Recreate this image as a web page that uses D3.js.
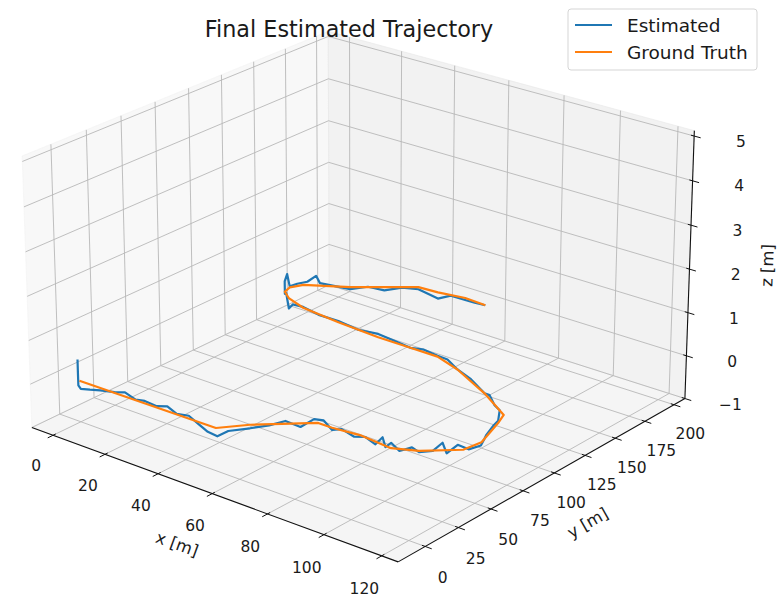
<!DOCTYPE html>
<html>
<head>
<meta charset="utf-8">
<script src="https://cdn.jsdelivr.net/npm/d3@7"></script>
<style>
  body { margin: 0; background: #fff; }
  text { font-family: "DejaVu Sans", sans-serif; fill: #1a1a1a; }
</style>
</head>
<body>
<div class="canvas"></div>
<script>
// Tick labels
const xTicks = [0, 20, 40, 60, 80, 100, 120]
const yTicks = [0, 25, 50, 75, 100, 125, 150, 175, 200]
const zTicks = [-1, 0, 1, 2, 3, 4, 5]

// Ground truth trajectory [m]
const gtX = [1, 52, 58, 72, 77, 86, 98, 105, 114, 115, 111, 109, 96, 80, 70, 60, 48, 32, 17, 9, 5, 4, 6, 18, 34, 41, 50, 58]
const gtY = [-2, -1, 12, 34, 34, 36, 34, 40, 54, 66, 88, 97, 111, 125, 131, 131, 131, 133, 136, 141, 146, 152, 159, 172, 194, 195, 198, 197]
const gtZ = [0, 0, 0, 0, 0, 0, 0, 0, 0, 0, 0, 0, 0, 0, 0, 0, 0, 0, 0, 0, 0, 0, 0, 0, 0, 0, 0, 0]

// Estimated trajectory [m]
const estX = [0.5, 0.5, 0.8, 2, 5, 9, 14, 18, 22, 26, 30, 34, 38, 42, 46, 50, 53, 55, 58, 62, 65, 68, 71, 74, 77, 80, 84, 88, 92, 95, 96, 98, 100, 103, 105, 108, 110, 111, 113, 115, 117, 116, 114, 113, 111, 108, 104, 100, 96, 88, 80, 75, 70, 65, 60, 54, 48, 40, 32, 24, 17, 12, 9, 8, 6, 4, 3, 3.5, 5, 7, 9, 10, 14, 18, 22, 26, 30, 34, 38, 41, 45, 50, 54, 58]
const estY = [-2, -2, -2.5, -3, -2, -2, -1, -1, -1, -2, -1, -1, -2, -1, -2, -3, -2, 2, 12, 18, 24, 29, 33, 34, 34, 35, 36, 36, 35, 34, 34, 34, 36, 39, 40, 44, 47, 48, 52, 56, 61, 66, 72, 80, 88, 96, 101, 106, 111, 118, 125, 128, 131, 131, 131, 131, 131, 132, 133, 134, 136, 138, 141, 141, 144, 148, 152, 153, 156, 160, 163, 164, 168, 172, 178, 183, 189, 194, 195, 195, 197, 198, 197, 197]
const estZ = [0.48, 0.2, -0.1, -0.15, -0.12, -0.05, 0, 0.08, 0, 0.07, 0.02, 0.1, 0.03, 0.06, -0.02, -0.1, -0.15, -0.05, -0.08, -0.02, 0.05, -0.1, 0.08, 0.1, -0.05, 0.02, -0.08, 0, -0.06, 0.18, -0.02, 0.12, -0.05, 0.05, -0.03, 0, 0.18, -0.05, 0.12, 0, 0.05, 0.1, 0.05, 0.12, 0.05, 0.1, 0.05, 0.12, 0, 0.05, 0, 0.08, 0.02, 0.06, 0, 0.04, 0.08, 0, 0.03, 0, 0.02, -0.05, -0.25, 0.1, 0, 0.2, 0.3, 0, 0.05, 0.08, 0.22, 0.05, 0, -0.05, 0, -0.08, -0.02, -0.05, -0.12, -0.15, -0.03, -0.05, -0.02, 0]

const width = 778
const height = 597

// Select SVG container
const svg = d3.select('.canvas')
  .append('svg')
  .attr('width', width)
  .attr('height', height)

// Box limits (pane extents in data units)
const xLim = [-8.3, 125.6]
const yLim = [-20, 209.5]
const zLim = [-1, 5.12]

// Data -> world cube
const H = 0.595, K = 0.37
const xw = d3.scaleLinear().domain(xLim).range([-H, H])
const yw = d3.scaleLinear().domain(yLim).range([-H, H])
const zw = d3.scaleLinear().domain(zLim).range([-K, K])

// Camera
const elev = 23 * Math.PI / 180
const azim = -51 * Math.PI / 180
const dist = 10
const u = [-Math.sin(azim), Math.cos(azim), 0]
const v = [-Math.sin(elev) * Math.cos(azim), -Math.sin(elev) * Math.sin(azim), Math.cos(elev)]
const n = [Math.cos(elev) * Math.cos(azim), Math.cos(elev) * Math.sin(azim), Math.sin(elev)]

// View plane -> pixels
const sx = d3.scaleLinear().domain([0, 0.1]).range([361, 361 + 395.8])
const sy = d3.scaleLinear().domain([0, 0.1]).range([280, 280 - 395.8])

const project = (x, y, z) => {
  const p = [xw(x), yw(y), zw(z)]
  const dot = a => a[0] * p[0] + a[1] * p[1] + a[2] * p[2]
  const d = dist - dot(n)
  return [sx(dot(u) / d), sy(dot(v) / d)]
}

const line = d3.line()
const [x0, x1] = xLim, [y0, y1] = yLim, [z0, z1] = zLim

// Panes
const panes = [
  { c: 'rgba(242,242,242,0.5)', pts: [[x0, y0, z0], [x0, y1, z0], [x0, y1, z1], [x0, y0, z1]] },
  { c: 'rgba(230,230,230,0.5)', pts: [[x0, y1, z0], [x1, y1, z0], [x1, y1, z1], [x0, y1, z1]] },
  { c: 'rgba(236,236,236,0.5)', pts: [[x0, y0, z0], [x1, y0, z0], [x1, y1, z0], [x0, y1, z0]] }
]
svg.append('g').selectAll('path')
  .data(panes)
  .enter()
  .append('path')
  .attr('d', d => line(d.pts.map(p => project(...p))) + 'Z')
  .attr('fill', d => d.c)
  .attr('stroke', d => d.c)

// Grid lines
const grid = []
xTicks.forEach(t => {
  grid.push([[t, y0, z0], [t, y1, z0], [t, y1, z1]])
})
yTicks.forEach(t => {
  grid.push([[x1, t, z0], [x0, t, z0], [x0, t, z1]])
})
zTicks.forEach(t => {
  grid.push([[x0, y0, t], [x0, y1, t], [x1, y1, t]])
})
svg.append('g').selectAll('path')
  .data(grid)
  .enter()
  .append('path')
  .attr('d', d => line(d.map(p => project(...p))))
  .attr('fill', 'none')
  .attr('stroke', '#b8b8b8')
  .attr('stroke-width', 0.9)

// Axes
const axisGroup = svg.append('g')
const xr = x1 - x0, yr = y1 - y0, zr = z1 - z0

const drawAxis = (a, b, ticks, pt, tickIn, tickOut, labelPt, label, labelPos) => {
  axisGroup.append('path')
    .attr('d', line([project(...a), project(...b)]))
    .attr('stroke', '#111').attr('stroke-width', 1.1).attr('fill', 'none')
  ticks.forEach(t => {
    axisGroup.append('path')
      .attr('d', line([project(...pt(t, tickIn)), project(...pt(t, tickOut))]))
      .attr('stroke', '#111').attr('stroke-width', 1)
    const lp = project(...labelPt(t))
    axisGroup.append('text')
      .attr('x', lp[0]).attr('y', lp[1])
      .attr('text-anchor', 'middle')
      .attr('dominant-baseline', 'central')
      .style('font-size', '15.5px')
      .text(String(t).replace('-', '\u2212'))
  })
  const pa = project(...a), pb = project(...b)
  let ang = Math.atan2(pb[1] - pa[1], pb[0] - pa[0]) * 180 / Math.PI
  if (ang > 90) ang -= 180
  if (ang < -90) ang += 180
  const lp = project(...labelPos)
  axisGroup.append('text')
    .attr('transform', `translate(${lp[0]}, ${lp[1]}) rotate(${ang})`)
    .attr('text-anchor', 'middle')
    .attr('dominant-baseline', 'central')
    .style('font-size', '16.5px')
    .text(label)
}

// x axis: along y = ymin, z = zmin
drawAxis([x0, y0, z0], [x1, y0, z0], xTicks,
  (t, k) => [t, y0 + k * yr / 12, z0], 0.1, -0.2,
  t => [t, y0 - 0.055 * yr, z0 - 0.085 * zr],
  'x [m]', [(x0 + x1) / 2, y0 - 0.1 * yr, z0 - 0.13 * zr])

// y axis: along x = xmax, z = zmin
drawAxis([x1, y0, z0], [x1, y1, z0], yTicks,
  (t, k) => [x1 - k * xr / 12, t, z0], 0.1, -0.2,
  t => [x1 + 0.045 * xr, t, z0 - 0.09 * zr],
  'y [m]', [x1 + 0.105 * xr, (y0 + y1) / 2, z0 - 0.12 * zr])

// z axis: along x = xmax, y = ymax
drawAxis([x1, y1, z0], [x1, y1, z1], zTicks,
  (t, k) => [x1 - k * xr / 12, y1, t], 0.1, -0.2,
  t => [x1 + 0.095 * xr, y1 + 0.035 * yr, t],
  'z [m]', [x1 + 0.12 * xr, y1 + 0.12 * yr, (z0 + z1) / 2 - 0.05])

// Trajectories
const estPts = estX.map((d, i) => project(estX[i], estY[i], estZ[i]))
const gtPts = gtX.map((d, i) => project(gtX[i], gtY[i], gtZ[i]))

svg.append('path')
  .attr('d', line(estPts))
  .attr('fill', 'none')
  .attr('stroke', '#1f77b4')
  .attr('stroke-width', 2.2)
  .attr('stroke-linejoin', 'round')

svg.append('path')
  .attr('d', line(gtPts))
  .attr('fill', 'none')
  .attr('stroke', '#ff7f0e')
  .attr('stroke-width', 2.2)
  .attr('stroke-linejoin', 'round')

// Title
svg.append('text')
  .attr('x', 349).attr('y', 29)
  .attr('text-anchor', 'middle')
  .attr('dominant-baseline', 'central')
  .style('font-size', '22.3px')
  .text('Final Estimated Trajectory')

// Legend
const legend = svg.append('g').attr('transform', 'translate(568, 9)')
legend.append('rect')
  .attr('width', 189).attr('height', 61).attr('rx', 3)
  .attr('fill', 'rgba(255,255,255,0.8)')
  .attr('stroke', '#d5d5d5')
const legendItems = [['Estimated', '#1f77b4'], ['Ground Truth', '#ff7f0e']]
legendItems.forEach((d, i) => {
  legend.append('line')
    .attr('x1', 7).attr('x2', 44)
    .attr('y1', 16 + i * 27).attr('y2', 16 + i * 27)
    .attr('stroke', d[1]).attr('stroke-width', 2.2)
  legend.append('text')
    .attr('x', 59).attr('y', 16 + i * 27)
    .attr('dominant-baseline', 'central')
    .style('font-size', '18.5px')
    .text(d[0])
})
</script>
</body>
</html>
